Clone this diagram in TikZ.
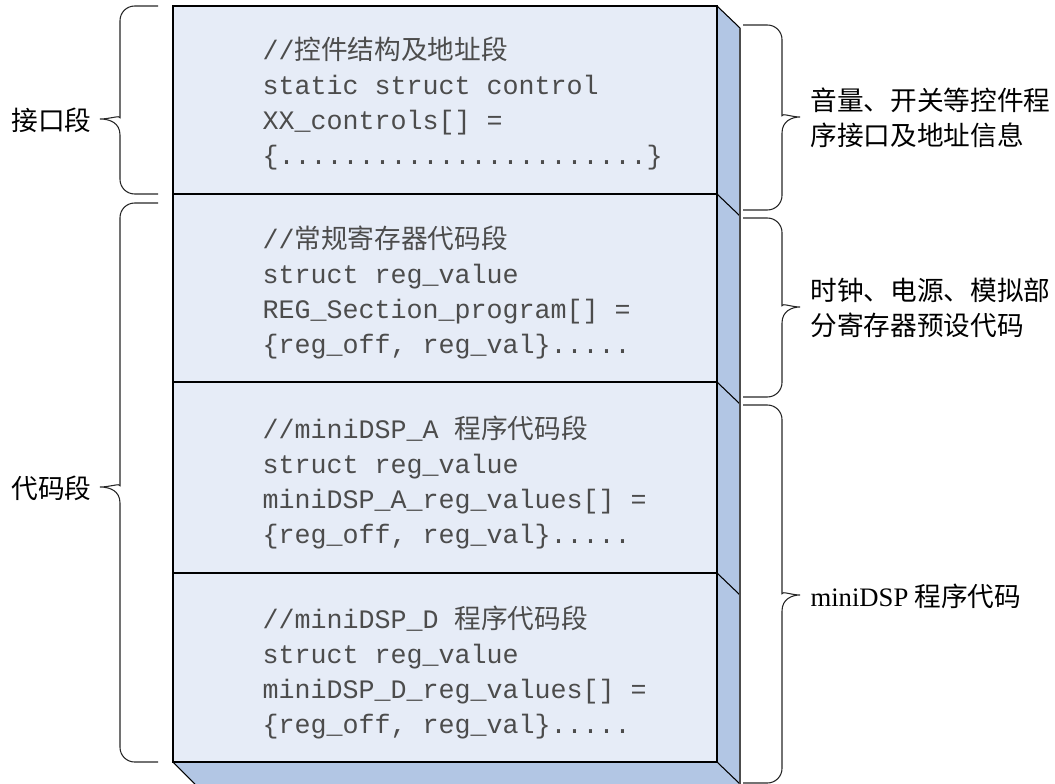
\documentclass[tikz,border=0pt]{standalone}
\usepackage{fontspec}
\setmainfont{Liberation Serif}
\setmonofont{Liberation Mono}
\newfontfamily\cjk{Noto Sans CJK SC}
\definecolor{frontblue}{RGB}{230,236,247}
\definecolor{sideblue}{RGB}{178,198,228}
\tikzset{
  codetext/.style={anchor=west,align=left,inner sep=0pt,text=black!70,font=\ttfamily\fontsize{20}{26.25}\selectfont},
  sidetext/.style={align=left,inner sep=0pt,font=\cjk\fontsize{20}{26.25}\selectfont},
  curly/.style={draw=black!85,line width=0.8pt}
}

\begin{document}
\begin{tikzpicture}[x=0.75pt,y=-0.75pt,line width=0.8pt]
\useasboundingbox (0,0) rectangle (1055,784);
% faces of the block
\fill[frontblue] (173,6) rectangle (717,762);
\fill[sideblue] (717,6) -- (740,28) -- (740,784) -- (717,762) -- cycle;
\fill[sideblue] (173,762) -- (717,762) -- (740,784) -- (195,784) -- cycle;
\draw (173,6) rectangle (717,762);
\draw (173,194) -- (717,194);
\draw (173,382) -- (717,382);
\draw (173,573) -- (717,573);
\draw (717,6) -- (740,28);
\draw (717,194) -- (740,216);
\draw (717,382) -- (740,404);
\draw (717,573) -- (740,595);
\draw (173,762) -- (195,784);
\draw (717,762) -- (740,784);
\draw[black!70] (740,28) -- (740,784);
% code in the sections
\node[codetext] (code1) at (262,103) {//{\cjk 控件结构及地址段}\\static struct control\\XX\_controls[] =\\\{.......................\}};
\node[codetext] (code2) at (262,292) {//{\cjk 常规寄存器代码段}\\struct reg\_value\\REG\_Section\_program[] =\\\{reg\_off, reg\_val\}.....};
\node[codetext] (code3) at (262,482) {//miniDSP\_A {\cjk 程序代码段}\\struct reg\_value\\miniDSP\_A\_reg\_values[] =\\\{reg\_off, reg\_val\}.....};
\node[codetext] (code4) at (262,672) {//miniDSP\_D {\cjk 程序代码段}\\struct reg\_value\\miniDSP\_D\_reg\_values[] =\\\{reg\_off, reg\_val\}.....};
% left braces
\draw[curly] (158,6) [rounded corners=11pt] -- (120,6) -- (120,103) [sharp corners] .. controls (120,115) and (110,119) .. (100,119) .. controls (110,119) and (120,123) .. (120,135) [rounded corners=11pt] -- (120,194) -- (158,194);
\draw[curly] (158,203) [rounded corners=11pt] -- (120,203) -- (120,471) [sharp corners] .. controls (120,483) and (110,487) .. (100,487) .. controls (110,487) and (120,491) .. (120,503) [rounded corners=11pt] -- (120,762) -- (158,762);
\node[sidetext,anchor=east] (ifseg) at (92,120) {接口段};
\node[sidetext,anchor=east] (codeseg) at (92,488) {代码段};
% right braces
\draw[curly] (743,25) [rounded corners=11pt] -- (782,25) -- (782,101) [sharp corners] .. controls (782,113) and (792,117) .. (800,117) .. controls (792,117) and (782,121) .. (782,133) [rounded corners=11pt] -- (782,210) -- (743,210);
\draw[curly] (743,218) [rounded corners=11pt] -- (782,218) -- (782,291) [sharp corners] .. controls (782,303) and (792,307) .. (800,307) .. controls (792,307) and (782,311) .. (782,323) [rounded corners=11pt] -- (782,397) -- (743,397);
\draw[curly] (743,405) [rounded corners=11pt] -- (782,405) -- (782,579) [sharp corners] .. controls (782,591) and (792,595) .. (800,595) .. controls (792,595) and (782,599) .. (782,611) [rounded corners=11pt] -- (782,783) -- (743,783);
\node[sidetext,anchor=west] (ifinfo) at (810,118) {音量、开关等控件程\\序接口及地址信息};
\node[sidetext,anchor=west] (reginfo) at (810,308) {时钟、电源、模拟部\\分寄存器预设代码};
\node[sidetext,anchor=west] (dspinfo) at (810,596) {{\rmfamily miniDSP} 程序代码};
\end{tikzpicture}
\end{document}
